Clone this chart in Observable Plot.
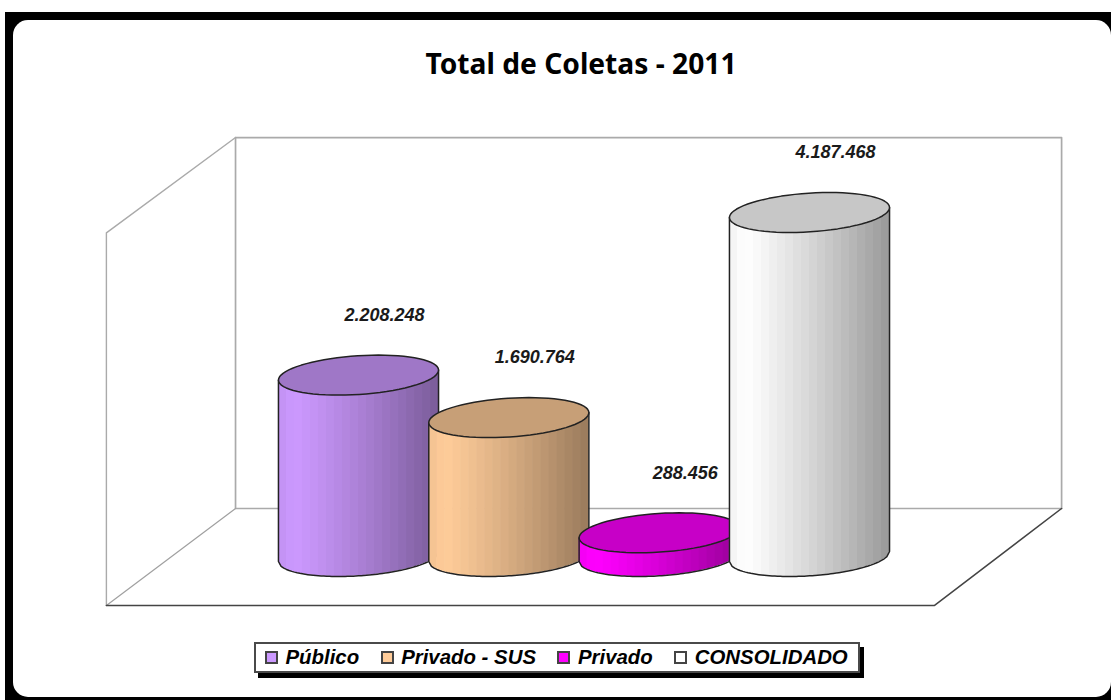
<!DOCTYPE html>
<html lang="pt-BR">
<head>
<meta charset="utf-8">
<script src="https://cdn.jsdelivr.net/npm/d3@7"></script>
<script src="https://cdn.jsdelivr.net/npm/@observablehq/plot@0.6"></script>
<style>
  html, body { margin: 0; padding: 0; width: 1111px; height: 700px; overflow: hidden; background: #fff; }
  #frame { position: absolute; left: 5px; top: 12px; width: 1106px; height: 688px; background: #000; overflow: hidden; }
  #sheet { position: absolute; left: 8px; top: 8px; width: 1098px; height: 677px; background: #fff; border-radius: 15px; }
  #title { position: absolute; left: 0; top: 44px; width: 1111px; text-align: center; margin: 0; padding-left: 51px; box-sizing: border-box;
           font: bold 28.2px/38px "Noto Sans", sans-serif; color: #000; }
  #chart { position: absolute; left: 0; top: 100px; }
  #legend { position: absolute; left: 254px; top: 642px; width: 606px; height: 31px; box-sizing: border-box;
            background: #fff; border: 2px solid #4a4a4a; box-shadow: 4px 5px 0 #000; display: flex; align-items: center; padding-left: 9px; gap: 21.5px;
            font: italic bold 20.4px "Liberation Sans", Arial, sans-serif; color: #000; }
  #legend .item { display: flex; align-items: center; gap: 7.5px; white-space: nowrap; }
  #legend .swatch { width: 13px; height: 13px; box-sizing: border-box; border: 2px solid #444; }
</style>
</head>
<body>
<div id="frame"><div id="sheet"></div></div>
<h1 id="title">Total de Coletas - 2011</h1>
<div id="chart"></div>
<div id="legend"></div>
<script>
const categories = ["Público", "Privado - SUS", "Privado", "CONSOLIDADO"];
const totals = [2208248, 1690764, 288456, 4187468];
const colors = ["#cc99ff", "#ffcc99", "#ff00ff", "#ffffff"];

const ptBR = d3.formatLocale({decimal: ",", thousands: ".", grouping: [3], currency: ["R$", ""]});
const formatTotal = ptBR.format(",d");

// Plot geometry: x runs in category slots, y in number of collections.
const svgWidth = 1111, svgHeight = 520;
const slotPx = 150.33, firstSlotPx = 358;
const pxPerUnit = 344 / 4187468, floorPx = 456;

// Extent of the box around the cylinders, in the same units.
const frontLeft = -1.677, frontRight = 3.832, backLeft = -0.818, backRight = 4.677;
const floorFront = -596000, floorBack = 584000, wallTop = 5100000, sideWallTop = 3940000;

// A cylinder cap is a circle seen in oblique view, so it leans with the floor.
const capAx = 77.5 / slotPx, capSkew = 20 / slotPx, capRise = 20 / pxPerUnit;
const capRadius = Math.hypot(capAx, capSkew), capLean = Math.atan2(capSkew, capAx);

const capPoint = t => ({dx: capAx * Math.cos(t) + capSkew * Math.sin(t), dy: capRise * Math.sin(t)});
// Height of the front half of the cap at a horizontal offset from its centre.
const frontArc = dx => capRise * Math.sin(capLean + 2 * Math.PI - Math.acos(Math.max(-1, Math.min(1, dx / capRadius))));

const stripCount = 20;
const shade = u => u < 0.1 ? 0.95 + 0.5 * u : 1 - 0.4 * Math.pow((u - 0.1) / 0.9, 1.15);
const tint = (color, k) => {
  const c = d3.rgb(color);
  return d3.rgb(c.r * k, c.g * k, c.b * k).formatHex();
};

// Vertical shading bands; each runs slightly under the next so no seam shows.
function sideRows(i) {
  const rows = [];
  const overlap = 0.6 / slotPx;
  for (let s = 0; s < stripCount; s++) {
    const fill = tint(colors[i], shade((s + 0.5) / stripCount));
    for (let p = 0; p <= 6; p++) {
      const right = Math.min(capRadius, capRadius * (-1 + 2 * (s + 1) / stripCount) + overlap);
      const left = capRadius * (-1 + 2 * s / stripCount);
      const dx = left + (right - left) * p / 6;
      const arc = frontArc(dx);
      rows.push({strip: s, x: i + dx, y1: arc, y2: totals[i] + arc, fill});
    }
  }
  return rows;
}

const capRows = i => d3.range(0, 73).map(a => {
  const {dx, dy} = capPoint(a / 72 * 2 * Math.PI);
  return {x: i + dx, y: totals[i] + dy};
});

const outlineRows = i => {
  const arc = d3.range(0, 61).map(k => {
    const dx = capRadius * (-1 + k / 30);
    return {x: i + dx, y: frontArc(dx)};
  });
  return [{x: i - capRadius, y: totals[i] + frontArc(-capRadius)}, ...arc, {x: i + capRadius, y: totals[i] + frontArc(capRadius)}];
};

const boxLines = {
  back: [[backLeft, floorBack], [backLeft, wallTop], [backRight, wallTop], [backRight, floorBack], [backLeft, floorBack]],
  side: [[backLeft, wallTop], [frontLeft, sideWallTop], [frontLeft, floorFront]],
  floorEdge: [[frontLeft, floorFront], [backLeft, floorBack]],
  front: [[frontLeft, floorFront], [frontRight, floorFront], [backRight, floorBack]]
};

const labels = categories.map((c, i) => ({i, total: totals[i], text: formatTotal(totals[i])}));

const chart = Plot.plot({
  width: svgWidth,
  height: svgHeight,
  margin: 0,
  style: {background: "transparent", overflow: "visible"},
  x: {axis: null, domain: [-firstSlotPx / slotPx, (svgWidth - firstSlotPx) / slotPx], range: [0, svgWidth]},
  y: {axis: null, domain: [(floorPx - svgHeight) / pxPerUnit, floorPx / pxPerUnit], range: [svgHeight, 0]},
  marks: [
    Plot.line(boxLines.back, {x: "0", y: "1", stroke: "#aaaaaa", strokeWidth: 1.7}),
    Plot.line(boxLines.side, {x: "0", y: "1", stroke: "#aaaaaa", strokeWidth: 1.4}),
    Plot.line(boxLines.floorEdge, {x: "0", y: "1", stroke: "#a0a0a0", strokeWidth: 1.2}),
    Plot.line(boxLines.front, {x: "0", y: "1", stroke: "#444444", strokeWidth: 1.5}),
    // Cylinders go left to right so each one overlaps its neighbour.
    ...categories.flatMap((c, i) => [
      Plot.area(sideRows(i), {x1: "x", y1: "y1", y2: "y2", z: "strip", fill: "fill"}),
      Plot.line(outlineRows(i), {x: "x", y: "y", stroke: "#222222", strokeWidth: 1.5}),
      Plot.line(capRows(i), {x: "x", y: "y", fill: tint(colors[i], 0.78), stroke: "#222222", strokeWidth: 1.5})
    ]),
    Plot.text(labels, {
      x: "i", y: "total", text: "text", dx: 26, dy: -60,
      fontFamily: "Liberation Sans, Arial, sans-serif", fontStyle: "italic", fontWeight: "bold", fontSize: 18, fill: "#1a1a1a"
    })
  ]
});
document.getElementById("chart").append(chart);

const legend = d3.select("#legend");
const items = legend.selectAll(".item").data(categories).join("div").attr("class", "item");
items.append("span").attr("class", "swatch").style("background", (d, i) => colors[i]);
items.append("span").text(d => d);
</script>
</body>
</html>
